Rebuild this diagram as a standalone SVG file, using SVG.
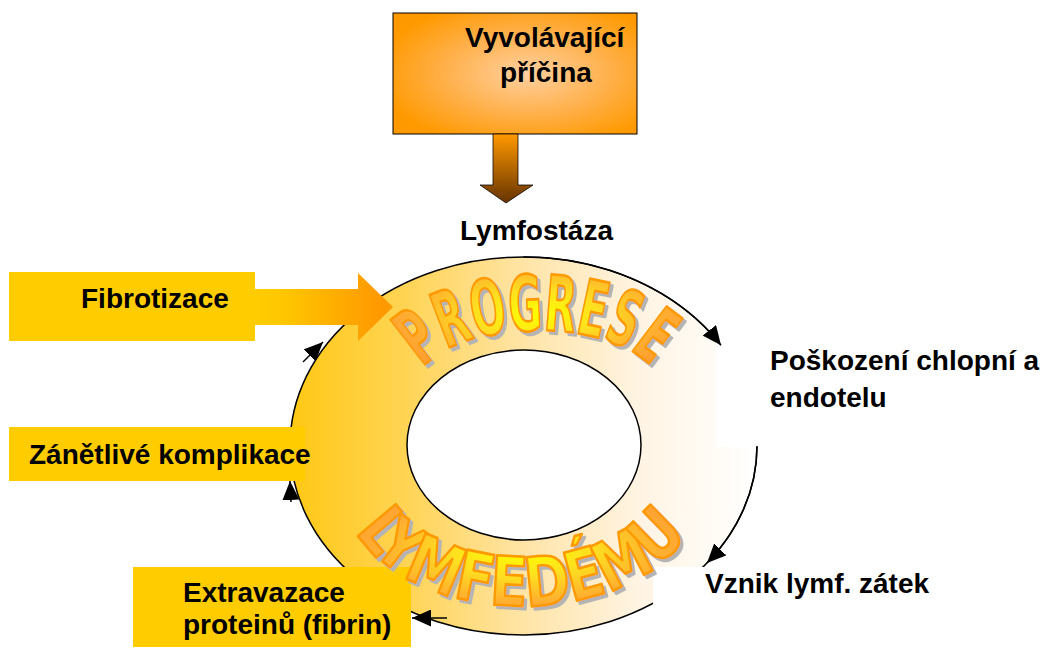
<svg xmlns="http://www.w3.org/2000/svg" width="1053" height="648" viewBox="0 0 1053 648">
<defs>
<style>
.lbl{font-family:"Liberation Sans",Arial,sans-serif;font-weight:bold;font-size:28px;fill:#000}
.conn{fill:none;stroke:#000;stroke-width:1.5}
.gold{fill:#FFCC00}
.blank{fill:#FFFFFF}
.wa{font-family:"DejaVu Sans Condensed","DejaVu Sans","Liberation Sans Narrow",sans-serif;font-weight:bold;font-stretch:condensed;fill:url(#waG);stroke:#FF9900;stroke-width:2.6;stroke-linejoin:round;filter:url(#wsh)}
</style>
<linearGradient id="ringG" gradientUnits="userSpaceOnUse" x1="290" y1="0" x2="757" y2="0">
<stop offset="0" stop-color="#FFC814"/>
<stop offset="0.25" stop-color="#FFD455"/>
<stop offset="0.5" stop-color="#FFE4A6"/>
<stop offset="0.75" stop-color="#FFF4E4"/>
<stop offset="1" stop-color="#FFFFFF"/>
</linearGradient>
<radialGradient id="boxG" cx="0.55" cy="0.5" r="0.62">
<stop offset="0" stop-color="#FFD0A0"/>
<stop offset="0.55" stop-color="#FFB04A"/>
<stop offset="1" stop-color="#FF9900"/>
</radialGradient>
<linearGradient id="downG" gradientUnits="userSpaceOnUse" x1="0" y1="134" x2="0" y2="203">
<stop offset="0" stop-color="#FF9900"/>
<stop offset="1" stop-color="#663300"/>
</linearGradient>
<linearGradient id="fibG" gradientUnits="userSpaceOnUse" x1="255" y1="0" x2="380" y2="0">
<stop offset="0" stop-color="#FFCC00"/>
<stop offset="0.2" stop-color="#FFC800"/>
<stop offset="1" stop-color="#FF9900"/>
</linearGradient>
<radialGradient id="waG" cx="0.5" cy="0.45" r="0.55">
<stop offset="0" stop-color="#FFFF00"/>
<stop offset="0.35" stop-color="#FFE020"/>
<stop offset="0.7" stop-color="#FFB030"/>
<stop offset="1" stop-color="#FF9933"/>
</radialGradient>
<filter id="wsh" x="-10%" y="-10%" width="130%" height="130%">
<feOffset in="SourceAlpha" dx="3" dy="3" result="o"/>
<feFlood flood-color="#B4B4B4"/>
<feComposite in2="o" operator="in" result="s"/>
<feMerge><feMergeNode in="s"/><feMergeNode in="SourceGraphic"/></feMerge>
</filter>
<marker id="ah" markerUnits="userSpaceOnUse" markerWidth="19" markerHeight="17" viewBox="0 0 19 17" refX="19" refY="8.5" orient="auto">
<path d="M0,0 L19,8.5 L0,17 z" fill="#000"/>
</marker>
<path id="arcTop" d="M397.8 399.1 L423 368 C463 318 612 318 652 368 L677.2 399.1"/>
<path id="arcBot" d="M332 499 L355 532 C424 630.7 621 630.7 690 532 L713 499"/>
</defs>
<rect width="1053" height="648" fill="#FFFFFF"/>

<g id="ring">
<path d="M290 446 A233.5 189 0 1 0 757 446 A233.5 189 0 1 0 290 446 Z M407 445 A117 95 0 1 0 641 445 A117 95 0 1 0 407 445 Z" fill="url(#ringG)" fill-rule="evenodd" stroke="#000" stroke-width="1.5"/>
</g>

<g id="poskozeni">
<rect class="blank" x="716" y="343" width="337" height="104"/>
<text class="lbl" x="770" y="370">Poškození chlopní a</text>
<text class="lbl" x="770" y="407">endotelu</text>
</g>

<g id="vznik">
<rect class="blank" x="653" y="567" width="290" height="60"/>
<text class="lbl" x="705" y="593">Vznik lymf. zátek</text>
</g>

<g id="fibrotizace">
<rect class="gold" x="9" y="272" width="246" height="69"/>
<polygon points="250,289 358,289 358,273 393,307 358,341 358,325 250,325" fill="url(#fibG)"/>
<text class="lbl" x="81" y="308">Fibrotizace</text>
</g>

<g id="zanetlive">
<rect class="gold" x="9" y="427" width="296" height="54"/>
<text class="lbl" x="29" y="464">Zánětlivé komplikace</text>
</g>

<g id="extravazace">
<rect class="gold" x="133" y="567" width="278" height="80"/>
<text class="lbl" x="183" y="602">Extravazace</text>
<text class="lbl" x="183" y="634">proteinů (fibrin)</text>
</g>

<g id="wordart">
<text class="wa" font-size="77"><textPath href="#arcTop" startOffset="40" textLength="246" lengthAdjust="spacingAndGlyphs">PROGRESE</textPath></text>
<text class="wa" font-size="68"><textPath href="#arcBot" startOffset="40" textLength="376" lengthAdjust="spacingAndGlyphs">LYMFEDÉMU</textPath></text>
</g>

<g id="cause">
<rect x="393" y="13" width="244" height="121" fill="url(#boxG)" stroke="#000" stroke-width="1"/>
<polygon points="493,134 518,134 518,185 533,185 506,203 480,185 493,185" fill="url(#downG)" stroke="#000" stroke-width="0.75"/>
<text class="lbl" x="465" y="47">Vyvolávající</text>
<text class="lbl" x="500" y="82">příčina</text>
</g>

<g id="lymfostaza">
<text class="lbl" x="460" y="240">Lymfostáza</text>
</g>

<g id="connectors">
<path class="conn" d="M523.5 257 A233.5 189 0 0 1 721 345.3" marker-end="url(#ah)"/>
<path class="conn" d="M757 446 A233.5 189 0 0 1 707 563" marker-end="url(#ah)"/>
<path class="conn" d="M447 618 L412 618" marker-end="url(#ah)"/>
<path class="conn" d="M291 502 L290 481" marker-end="url(#ah)"/>
<path class="conn" d="M303 362 L323 342" marker-end="url(#ah)"/>
</g>
</svg>
